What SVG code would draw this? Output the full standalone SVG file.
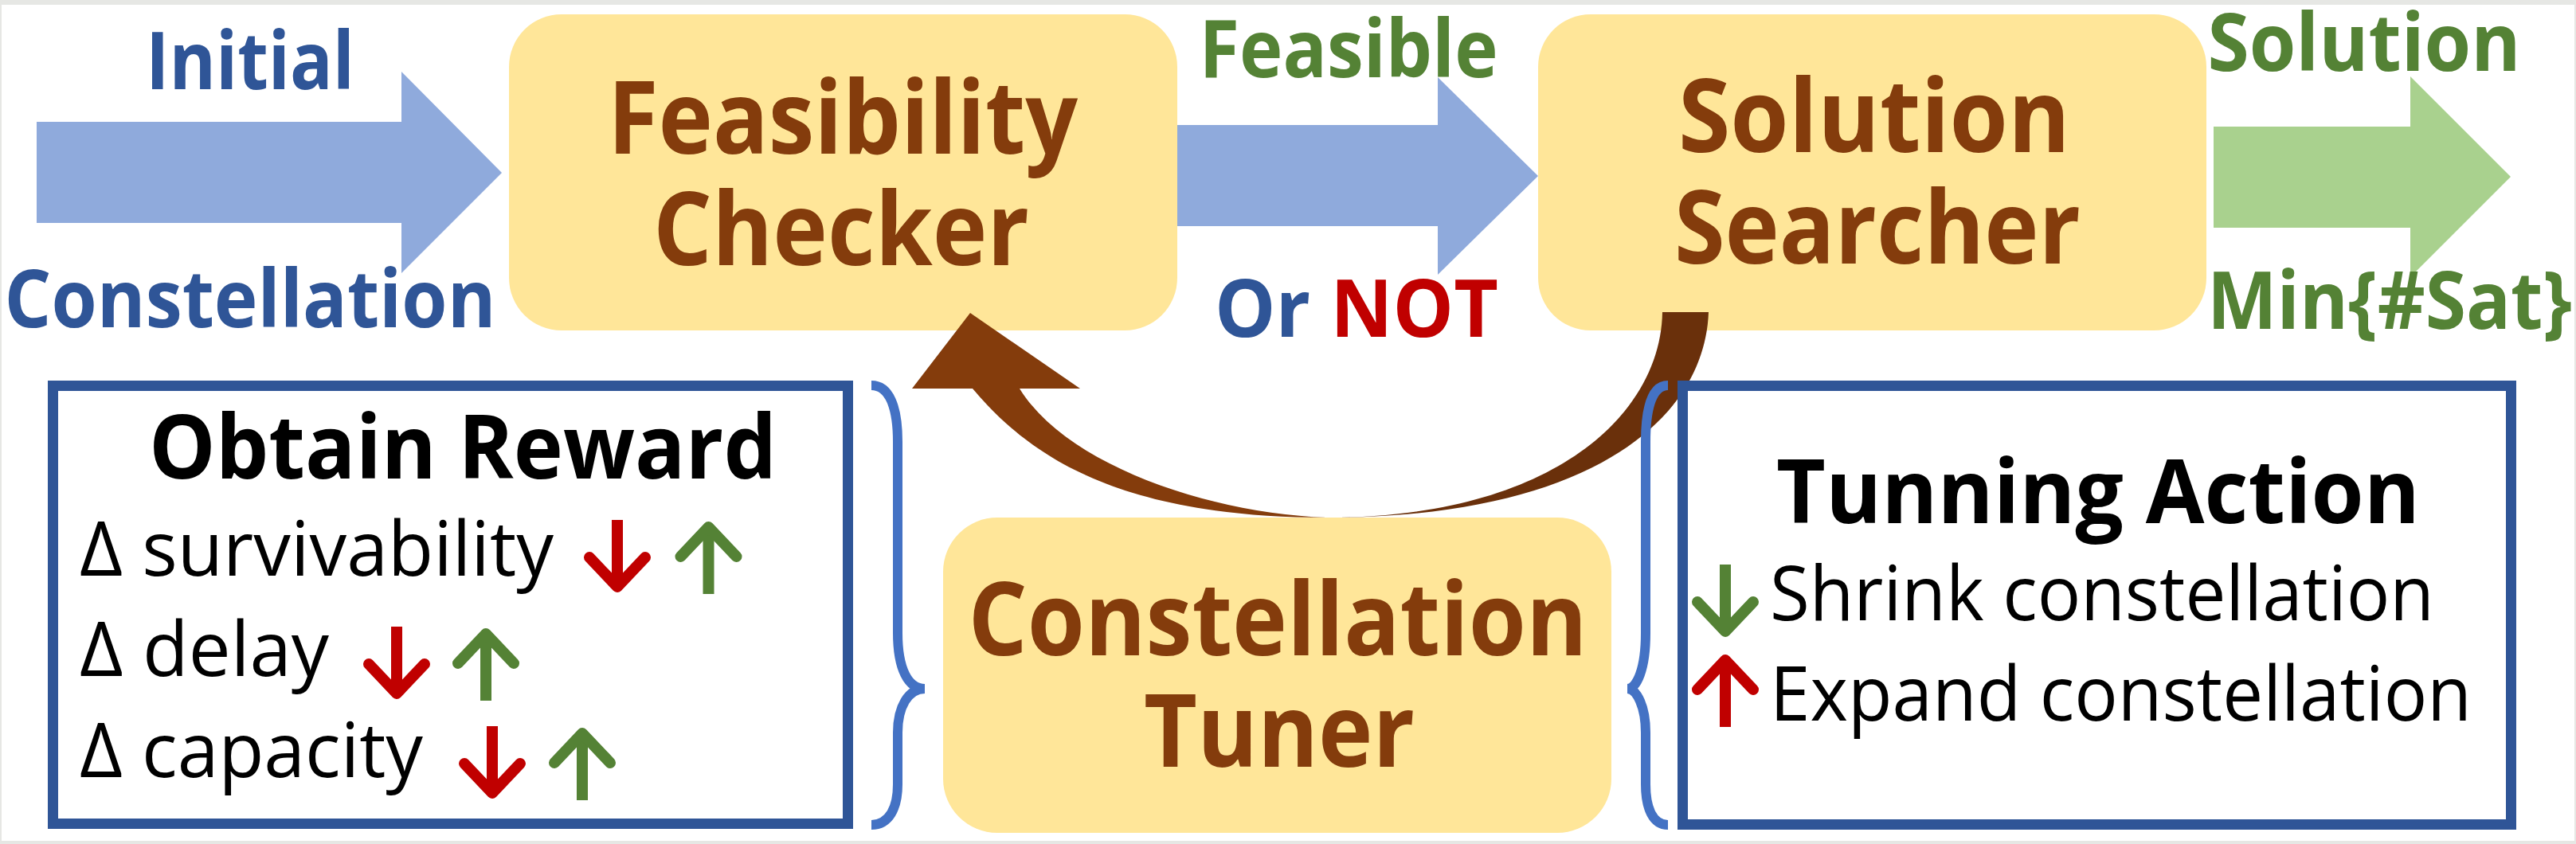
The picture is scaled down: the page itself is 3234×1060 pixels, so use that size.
<svg xmlns="http://www.w3.org/2000/svg" xmlns:xlink="http://www.w3.org/1999/xlink" width="3234" height="1060" viewBox="0 0 3234 1060">
<style>
.t{font-family:"Open Sans","Noto Sans","Liberation Sans",sans-serif;}
.lbl{font-size:101px;font-weight:bold;}
.node{fill:#FFE699;}
.ntx{font-size:128px;font-weight:bold;fill:#843C0C;}
.box{fill:#FFFFFF;stroke:#2F5597;stroke-width:13;}
.brace{fill:none;stroke:#4472C4;stroke-width:12;stroke-linecap:butt;}
.row{font-size:96px;fill:#000000;}
.hd{font-size:112px;font-weight:bold;fill:#000000;}
.red{stroke:#C00000;}
.grn{stroke:#548235;}
</style>
<defs>
<g id="dn" fill="none" stroke-width="14">
<path d="M0 0 V82" stroke-linecap="butt"/>
<path d="M-35 47 L0 84 L35 47" stroke-linecap="round" stroke-linejoin="round"/>
</g>
</defs>
<rect x="0" y="0" width="3234" height="1060" fill="#E6E7E4"/>
<rect x="2" y="6" width="3230" height="1050" fill="#FFFFFF"/>

<g id="input-arrow">
<polygon points="46,153 504,153 504,90 630,217 504,343 504,280 46,280" fill="#8FAADC"/>
<text class="t lbl" fill="#2F5597" text-anchor="middle"><tspan x="314" y="112" textLength="262" lengthAdjust="spacingAndGlyphs">Initial</tspan><tspan x="314" y="411" textLength="617" lengthAdjust="spacingAndGlyphs">Constellation</tspan></text>
</g>

<g id="feasibility-checker">
<rect class="node" x="639" y="18" width="839" height="397" rx="66" ry="66"/>
<text class="t ntx" text-anchor="middle"><tspan x="1058" y="193" textLength="590" lengthAdjust="spacingAndGlyphs">Feasibility</tspan><tspan x="1056" y="333" textLength="472" lengthAdjust="spacingAndGlyphs">Checker</tspan></text>
</g>

<g id="solution-searcher">
<rect class="node" x="1931" y="18" width="839" height="397" rx="66" ry="66"/>
<text class="t ntx" text-anchor="middle"><tspan x="2353" y="191" textLength="492" lengthAdjust="spacingAndGlyphs">Solution</tspan><tspan x="2357" y="331" textLength="510" lengthAdjust="spacingAndGlyphs">Searcher</tspan></text>
</g>

<g id="constellation-tuner">
<rect class="node" x="1184" y="650" width="839" height="396" rx="68" ry="68"/>
<text class="t ntx" text-anchor="middle"><tspan x="1604" y="823" textLength="777" lengthAdjust="spacingAndGlyphs">Constellation</tspan><tspan x="1606" y="963" textLength="340" lengthAdjust="spacingAndGlyphs">Tuner</tspan></text>
</g>

<g id="connectors">
<polygon points="1478,157 1805,157 1805,97 1931,221 1805,345 1805,284 1478,284" fill="#8FAADC"/>
<text class="t lbl" text-anchor="middle"><tspan x="1693" y="97" textLength="375" lengthAdjust="spacingAndGlyphs" fill="#548235">Feasible</tspan><tspan x="1703" y="423" textLength="356" lengthAdjust="spacingAndGlyphs"><tspan fill="#2F5597">Or </tspan><tspan fill="#C00000">NOT</tspan></tspan></text>
<polygon points="2779,159 3026,159 3026,96 3152,222 3026,348 3026,286 2779,286" fill="#A9D18E"/>
<text class="t lbl" fill="#548235" text-anchor="middle"><tspan x="2968" y="89" textLength="393" lengthAdjust="spacingAndGlyphs">Solution</tspan><tspan x="3000" y="413" textLength="458" lengthAdjust="spacingAndGlyphs">Min{#Sat}</tspan></text>
<path d="M2087 392 L2145 392 C2140 530 1990 650 1666 650 C1950 650 2085 520 2087 392 Z" fill="#6A300B"/>
<path d="M1666 650 C1400 650 1290 570 1221 488 L1145 488 L1218 393 L1356 488 L1280 488 C1340 585 1520 645 1666 650 Z" fill="#843C0C"/>
</g>

<g id="obtain-reward">
<rect class="box" x="66.5" y="484.5" width="998" height="550"/>
<text class="t hd" x="581" y="601" text-anchor="middle" textLength="788" lengthAdjust="spacingAndGlyphs">Obtain Reward</text>
<text class="t row"><tspan x="100" y="723" textLength="595" lengthAdjust="spacingAndGlyphs">Δ survivability</tspan><tspan x="100" y="849" textLength="313" lengthAdjust="spacingAndGlyphs">Δ delay</tspan><tspan x="100" y="976" textLength="431" lengthAdjust="spacingAndGlyphs">Δ capacity</tspan></text>
<use xlink:href="#dn" class="red" transform="translate(775 653)"/>
<use xlink:href="#dn" class="grn" transform="translate(889.5 746) scale(1 -1)"/>
<use xlink:href="#dn" class="red" transform="translate(498 787)"/>
<use xlink:href="#dn" class="grn" transform="translate(610 880) scale(1 -1)"/>
<use xlink:href="#dn" class="red" transform="translate(618 912)"/>
<use xlink:href="#dn" class="grn" transform="translate(731 1005) scale(1 -1)"/>
</g>

<g id="braces">
<path class="brace" d="M1094 484 C1116 484 1127 510 1127 555 L1127 795 C1127 840 1140 865 1161 865 C1140 865 1127 888 1127 920 L1127 985 C1127 1015 1116 1036 1094 1036"/>
<path class="brace" d="M2094 484 C2075 484 2066 510 2066 555 L2066 795 C2066 840 2055 865 2043 865 C2055 865 2066 888 2066 920 L2066 985 C2066 1015 2075 1036 2094 1036"/>
</g>

<g id="tunning-action">
<rect class="box" x="2112.5" y="484.5" width="1040" height="551"/>
<text class="t hd" x="2634" y="657" text-anchor="middle" textLength="808" lengthAdjust="spacingAndGlyphs">Tunning Action</text>
<text class="t row"><tspan x="2222" y="779" textLength="834" lengthAdjust="spacingAndGlyphs">Shrink constellation</tspan><tspan x="2222" y="905" textLength="881" lengthAdjust="spacingAndGlyphs">Expand constellation</tspan></text>
<use xlink:href="#dn" class="grn" transform="translate(2166 709)"/>
<use xlink:href="#dn" class="red" transform="translate(2166 913) scale(1 -1)"/>
</g>
</svg>
